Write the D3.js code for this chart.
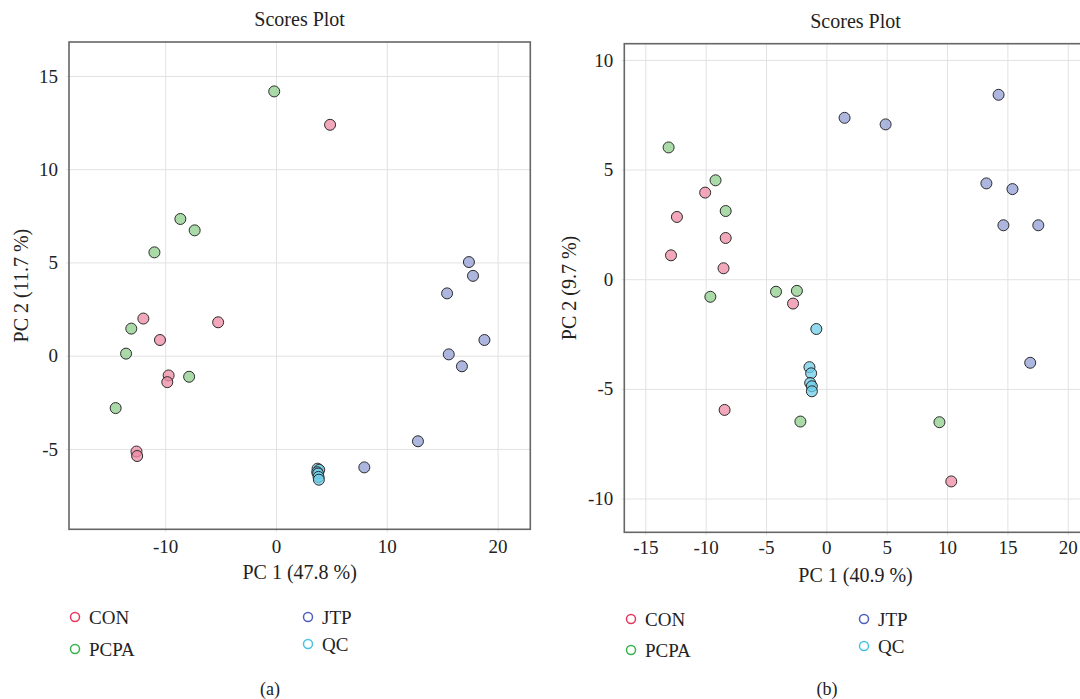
<!DOCTYPE html>
<html>
<head>
<meta charset="utf-8">
<script src="https://cdn.jsdelivr.net/npm/d3@7"></script>
<style>
body { margin: 0; background: #fff; }
text { font-family: "Liberation Serif", "DejaVu Serif", serif; fill: #222; }
</style>
</head>
<body>
<script>
var width = 1080,
    height = 699;

var groups = ["CON", "PCPA", "JTP", "QC"];
var fillColors = ["#ee8aa3", "#8fcd8c", "#909dd3", "#6fcde8"];
var legendColors = ["#e8365d", "#35b24a", "#4d5fbb", "#45c3e6"];

// panel (a) scores, [PC1, PC2]
var conA = [[4.88, 12.38], [-11.97, 1.99], [-5.22, 1.79], [-10.47, 0.84],
            [-9.69, -1.06], [-9.81, -1.42], [-12.59, -5.14], [-12.53, -5.38]];
var pcpaA = [[-0.16, 14.17], [-8.63, 7.33], [-7.34, 6.72], [-10.97, 5.54],
             [-13.06, 1.45], [-13.53, 0.11], [-7.84, -1.13], [-14.47, -2.81]];
var jtpA = [[17.41, 5.02], [17.78, 4.28], [15.44, 3.34], [18.81, 0.84],
            [15.59, 0.07], [16.78, -0.57], [12.81, -4.59], [7.97, -5.99]];
var qcA = [[3.75, -6.06], [3.9, -6.12], [3.72, -6.25], [3.8, -6.32], [3.84, -6.5], [3.87, -6.65]];

// panel (b) scores, [PC1, PC2]
var conB = [[-10.04, 3.95], [-12.38, 2.84], [-8.34, 1.88], [-12.87, 1.09],
            [-8.52, 0.5], [-2.76, -1.11], [-8.43, -5.96], [10.35, -9.22]];
var pcpaB = [[-13.07, 6.01], [-9.18, 4.51], [-8.34, 3.11], [-9.61, -0.8],
             [-4.17, -0.57], [-2.44, -0.53], [-2.15, -6.49], [9.37, -6.52]];
var jtpB = [[14.27, 8.41], [1.51, 7.36], [4.91, 7.06], [13.26, 4.37],
            [15.42, 4.11], [14.67, 2.46], [17.56, 2.46], [16.89, -3.81]];
var qcB = [[-0.83, -2.27], [-1.4, -4.01], [-1.26, -4.29], [-1.34, -4.73], [-1.2, -4.88], [-1.2, -5.11]];

var xTicksA = [-10, 0, 10, 20],
    yTicksA = [-5, 0, 5, 10, 15];
var xTicksB = [-15, -10, -5, 0, 5, 10, 15, 20],
    yTicksB = [-10, -5, 0, 5, 10];

var panels = [
  { left: 69, top: 42, right: 530.3, bottom: 529.3,
    xDomain: [-18.68, 22.95], yDomain: [-9.31, 16.82],
    xTicks: xTicksA, yTicks: yTicksA,
    xLabel: "PC 1 (47.8 %)", yLabel: "PC 2 (11.7 %)", yLabelX: 21,
    series: [conA, pcpaA, jtpA, qcA],
    legendX: [75, 308], legendY: [[617, 649], [617, 644]],
    caption: "(a)", captionX: 270, xPad: 7 },
  { left: 624.3, top: 43.7, right: 1086.7, bottom: 532.3,
    xDomain: [-16.74, 21.57], yDomain: [-11.54, 10.74],
    xTicks: xTicksB, yTicks: yTicksB,
    xLabel: "PC 1 (40.9 %)", yLabel: "PC 2 (9.7 %)", yLabelX: 569,
    series: [conB, pcpaB, jtpB, qcB],
    legendX: [631, 864], legendY: [[619, 650], [619, 646]],
    caption: "(b)", captionX: 827, xPad: 5 }
];

var svg = d3.select("body").append("svg")
    .attr("width", width)
    .attr("height", height)
    .style("display", "block")

svg.append("rect")
    .attr("width", width)
    .attr("height", height)
    .attr("fill", "#fff")

panels.forEach(function (p) {
  var w = p.right - p.left,
      h = p.bottom - p.top;

  var x = d3.scaleLinear().domain(p.xDomain).range([0, w]);
  var y = d3.scaleLinear().domain(p.yDomain).range([h, 0]);

  var g = svg.append("g")
      .attr("transform", "translate(" + p.left + "," + p.top + ")")

  /* grid lines come from the axes ticks */
  var xAxis = g.append("g")
      .attr("transform", "translate(0," + (h + 3) + ")")
      .call(d3.axisBottom(x).tickValues(p.xTicks).tickSize(-(h + 3)).tickPadding(p.xPad))
  var yAxis = g.append("g")
      .attr("transform", "translate(-3,0)")
      .call(d3.axisLeft(y).tickValues(p.yTicks).tickSize(-(w + 3)).tickPadding(8))

  ;[xAxis, yAxis].forEach(function (a) {
    a.select(".domain").remove()
    a.selectAll(".tick line").attr("stroke", "#e2e2e2").attr("stroke-width", 1)
    a.selectAll(".tick text")
        .style("font-family", '"Liberation Serif", "DejaVu Serif", serif')
        .style("font-size", "19px")
        .attr("fill", "#222")
        .text(function (d) { return String(d) })
  })

  g.append("rect")
      .attr("width", w)
      .attr("height", h)
      .attr("fill", "none")
      .attr("stroke", "#666")
      .attr("stroke-width", 1.6)

  p.series.forEach(function (pts, i) {
    g.append("g").selectAll("circle")
        .data(pts)
        .enter().append("circle")
        .attr("cx", function (d) { return x(d[0]) })
        .attr("cy", function (d) { return y(d[1]) })
        .attr("r", 5.5)
        .attr("fill", fillColors[i])
        .attr("fill-opacity", 0.75)
        .attr("stroke", "#2b2b2b")
        .attr("stroke-width", 1)
  })

  /* titles and axis labels */
  svg.append("text")
      .attr("x", p.left + w / 2)
      .attr("y", p.top - 16)
      .attr("text-anchor", "middle")
      .style("font-size", "20px")
      .text("Scores Plot")

  svg.append("text")
      .attr("x", p.left + w / 2)
      .attr("y", p.bottom + 50)
      .attr("text-anchor", "middle")
      .style("font-size", "20px")
      .text(p.xLabel)

  svg.append("text")
      .attr("transform", "translate(" + p.yLabelX + "," + (p.top + h / 2) + ") rotate(-90)")
      .attr("dy", "0.35em")
      .attr("text-anchor", "middle")
      .style("font-size", "20px")
      .text(p.yLabel)

  /* legend, two columns */
  groups.forEach(function (name, i) {
    var col = Math.floor(i / 2),
        row = i % 2;
    var lg = svg.append("g")
        .attr("transform", "translate(" + p.legendX[col] + "," + p.legendY[col][row] + ")")
    lg.append("circle")
        .attr("r", 4.5)
        .attr("fill", "none")
        .attr("stroke", legendColors[i])
        .attr("stroke-width", 1.5)
    lg.append("text")
        .attr("x", 14)
        .attr("dy", "0.35em")
        .style("font-size", "19px")
        .text(name)
  })

  svg.append("text")
      .attr("x", p.captionX)
      .attr("y", 695)
      .attr("text-anchor", "middle")
      .style("font-size", "18px")
      .text(p.caption)
})
</script>
</body>
</html>
